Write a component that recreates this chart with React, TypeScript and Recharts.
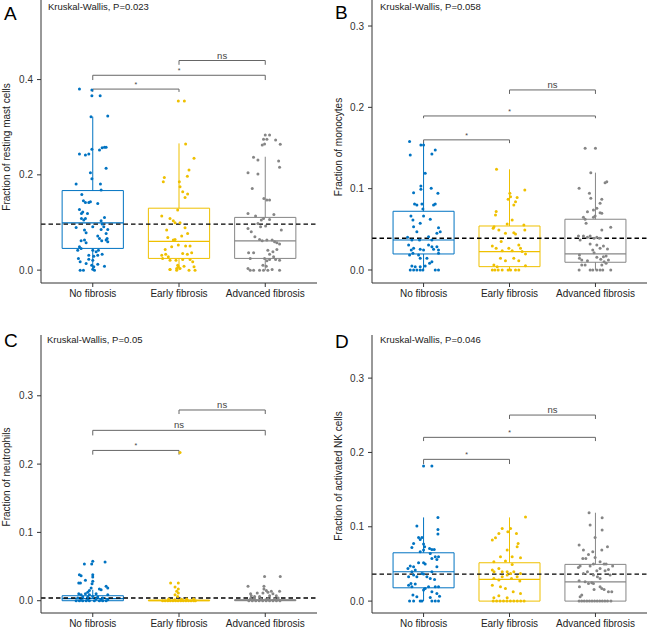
import React from 'react';
import { ComposedChart, XAxis, YAxis, Scatter, ReferenceArea, ReferenceLine } from 'recharts';

const FONT = '"Liberation Sans", Arial, Helvetica, sans-serif';

// ---------- shared data ----------
const categories = ['No fibrosis', 'Early fibrosis', 'Advanced fibrosis'];
const groupColors = ['#0073C2', '#EFC000', '#868686'];
const panelLetters = ['A', 'B', 'C', 'D'];
const yTitles = [
  'Fraction of resting mast cells',
  'Fraction of monocytes',
  'Fraction of neutrophils',
  'Fraction of activated NK cells',
];
const pValueTexts = [
  'Kruskal-Wallis, P=0.023',
  'Kruskal-Wallis, P=0.058',
  'Kruskal-Wallis, P=0.05',
  'Kruskal-Wallis, P=0.046',
];

// ---------- panel A: resting mast cells ----------
const aTicks = [0, 0.2, 0.4];
const aMean = 0.0966;
// box stats: [q1, median, q3, lower whisker, upper whisker]
const aBoxes = [
  [0.0456, 0.0994, 0.167, 0, 0.322],
  [0.0246, 0.0603, 0.13, 0, 0.266],
  [0.0246, 0.0616, 0.1107, 0, 0.238],
];
// brackets: [from group, to group, y of bar, y of tips, label]
const aBrackets = [
  [1, 2, 0.38, 0.374, '*'],
  [1, 3, 0.409, 0.399, '*'],
  [2, 3, 0.44, 0.431, 'ns'],
];
// points: [jitter offset, value]
const aNo = [[-0.154,0.38],[-0.01,0.378],[-0.01,0.366],[0.086,0.366],[-0.02,0.322],[0.174,0.3235],[-0.01,0.2535],[0.078,0.252],[0.109,0.257],[0.136,0.258],[0.155,0.258],[-0.154,0.2437],[-0.085,0.2416],[-0.046,0.2437],[-0.027,0.2045],[0.155,0.2136],[-0.01,0.1918],[-0.193,0.1807],[0.089,0.1807],[0.097,0.168],[-0.127,0.159],[-0.108,0.1456],[-0.085,0.1422],[-0.046,0.1422],[-0.027,0.1435],[0.058,0.14],[-0.154,0.1275],[-0.131,0.119],[-0.116,0.1218],[-0.061,0.119],[-0.131,0.1086],[-0.104,0.105],[-0.085,0.1086],[0.097,0.1036],[0.136,0.1107],[-0.193,0.0897],[-0.096,0.084],[-0.077,0.0784],[0,0.091],[0.128,0.091],[0.109,0.0966],[0.097,0.0855],[0.174,0.0855],[0.155,0.0771],[-0.135,0.0616],[-0.096,0.063],[-0.077,0.0574],[0.058,0.0714],[0.078,0.0666],[0.104,0.0616],[0.155,0.063],[0.174,0.0595],[0.167,0.0666],[-0.154,0.049],[-0.135,0.0456],[-0.174,0.042],[0,0.042],[0.039,0.0385],[0.066,0.042],[-0.046,0.0315],[0.012,0.0294],[0.058,0.0315],[0.109,0.0336],[-0.166,0.0245],[-0.146,0.0175],[-0.046,0.0231],[0,0.021],[-0.077,0.0141],[-0.012,0.0105],[0.012,0.007],[0.058,0.0126],[0.136,0.0084],[-0.146,0],[-0.108,0],[0,0.002],[0.02,0]];
const aEarly = [[-0.008,0.355],[0.062,0.355],[0.077,0.265],[0.174,0.2346],[-0.17,0.1947],[-0.182,0.1856],[0.004,0.1856],[0.116,0.21],[0.097,0.197],[0.012,0.175],[0.043,0.1646],[0.07,0.1527],[0.1,0.16],[-0.015,0.126],[-0.2,0.1134],[-0.104,0.1085],[-0.066,0.1036],[0.012,0.0994],[-0.046,0.0994],[-0.143,0.084],[0.07,0.089],[0.1,0.077],[-0.13,0.0686],[0.031,0.0714],[-0.066,0.063],[-0.046,0.0644],[-0.085,0.049],[-0.008,0.0525],[0.077,0.0504],[0.128,0.0504],[-0.16,0.0434],[-0.2,0.0315],[-0.154,0.0336],[-0.124,0.028],[-0.19,0.0245],[-0.104,0.021],[-0.035,0.021],[-0.015,0.0105],[-0.104,0.0015],[-0.027,0.0035],[-0.008,0.007],[0.043,0.035],[0.097,0.0336],[0.147,0.0364],[0.043,0.0224],[0.128,0.0224],[0.159,0.0175],[0.174,0.007],[0.116,0],[0.186,0],[0.058,0.0084],[0.012,0.0035],[-0.104,0.0014],[-0.027,0]];
const aAdv = [[0,0.2836],[0.05,0.2836],[-0.02,0.2746],[0.019,0.2746],[-0.035,0.2626],[-0.008,0.2647],[0.12,0.273],[0.174,0.264],[-0.136,0.2367],[-0.085,0.231],[-0.2,0.2045],[-0.085,0.2017],[0.155,0.229],[0.166,0.2157],[-0.151,0.1716],[-0.016,0.1506],[0.019,0.147],[0.05,0.147],[-0.2,0.119],[-0.112,0.1134],[-0.046,0.105],[-0.02,0.1086],[0.05,0.1065],[0.1,0.117],[-0.085,0.098],[-0.054,0.091],[0.004,0.0924],[0.186,0.084],[-0.2,0.0876],[-0.162,0.0805],[-0.12,0.07],[-0.066,0.0645],[-0.035,0.0616],[0.019,0.063],[0.08,0.063],[0.108,0.0595],[0.135,0.0574],[0.166,0.0546],[-0.193,0.0364],[-0.135,0.0364],[-0.174,0.0245],[0.03,0.042],[0.05,0.0336],[0.089,0.0385],[0.135,0.0434],[-0.008,0.0245],[0.019,0.0196],[0.05,0.0224],[0.097,0.028],[0.12,0.0224],[0.166,0.021],[-0.2,0.0035],[-0.174,0],[-0.135,0],[-0.066,0],[-0.02,0],[0.03,0],[0.08,0.0014],[0.166,0],[-0.027,0.0105],[0.012,0.0084]];

// ---------- panel B: monocytes ----------
const bTicks = [0, 0.1, 0.2, 0.3];
const bMean = 0.039;
const bBoxes = [
  [0.0197, 0.0369, 0.0722, 0, 0.158],
  [0.0041, 0.0225, 0.0541, 0, 0.1238],
  [0.0095, 0.0197, 0.0624, 0, 0.1197],
];
const bBrackets = [
  [1, 2, 0.16, 0.156, '*'],
  [1, 3, 0.1894, 0.1866, '*'],
  [2, 3, 0.2214, 0.2165, 'ns'],
];
const bNo = [[-0.163,0.158],[-0.031,0.1538],[0,0.1538],[-0.155,0.1415],[0.097,0.1427],[0.136,0.1476],[0.019,0.119],[-0.116,0.095],[-0.031,0.1033],[-0.031,0.0993],[0.089,0.1005],[0.167,0.0943],[-0.105,0.0812],[-0.078,0.08],[-0.019,0.0812],[-0.008,0.075],[0.116,0.08],[0.136,0.0812],[-0.147,0.0664],[-0.124,0.0615],[-0.116,0.0533],[0,0.0664],[0.078,0.0623],[-0.039,0.0574],[-0.078,0.0471],[0.174,0.052],[0.194,0.0471],[0.155,0.0451],[-0.186,0.0402],[-0.136,0.0369],[-0.047,0.0369],[0.058,0.041],[0.097,0.0369],[-0.174,0.0308],[-0.143,0.0246],[-0.116,0.0267],[-0.039,0.0255],[0,0.0246],[0.058,0.0308],[0.097,0.0287],[0.116,0.0255],[0.155,0.0287],[0.174,0.0246],[0.174,0.0205],[-0.163,0.0185],[-0.124,0.0205],[-0.058,0.0185],[-0.039,0.0144],[0.039,0.0144],[0.097,0.0102],[0.07,0.0082],[-0.136,0.0049],[-0.097,0.0041],[-0.039,0.0041],[0.019,0.0049],[-0.155,0],[-0.116,0],[-0.078,0],[-0.039,0],[-0.008,0],[0.136,0],[0.174,0]];
const bEarly = [[-0.151,0.1238],[0.178,0.0984],[0.004,0.0943],[-0.016,0.0869],[0.012,0.0902],[0.089,0.089],[0.07,0.084],[0.05,0.08],[-0.155,0.0718],[-0.163,0.0677],[0.031,0.0615],[-0.027,0.0566],[-0.19,0.0513],[-0.18,0.0533],[-0.124,0.0492],[-0.047,0.0451],[0.05,0.0459],[0.07,0.0443],[0.167,0.0553],[0.178,0.0492],[-0.2,0.0295],[-0.155,0.0267],[-0.097,0.0349],[-0.085,0.0238],[-0.008,0.0267],[0.031,0.0238],[0.108,0.0308],[0.128,0.0267],[0.147,0.0226],[0.186,0.0197],[-0.105,0.0144],[-0.047,0.0115],[0.05,0.0144],[0.108,0.0115],[-0.182,0.0062],[-0.143,0.0041],[0.186,0.0053],[-0.2,0],[-0.17,0],[-0.132,0],[-0.085,0],[-0.016,0],[0.012,0],[0.07,0],[0.108,0]];
const bAdv = [[-0.12,0.1497],[0,0.1497],[-0.054,0.1197],[0.112,0.1074],[0.132,0.1086],[-0.19,0.1005],[-0.07,0.0943],[-0.054,0.0882],[0.074,0.0869],[0.054,0.082],[-0.093,0.0717],[-0.023,0.0738],[0.016,0.0759],[0.054,0.0705],[0.074,0.0697],[-0.14,0.0648],[-0.12,0.0623],[-0.023,0.0648],[-0.004,0.0664],[-0.109,0.0574],[0.178,0.0525],[0.074,0.0492],[-0.198,0.0418],[-0.14,0.0418],[-0.062,0.0418],[-0.016,0.039],[-0.178,0.0369],[-0.093,0.0402],[0.047,0.039],[0.016,0.0402],[-0.062,0.032],[0.016,0.0308],[0.054,0.0267],[0.093,0.0295],[-0.031,0.0246],[-0.016,0.0213],[0.14,0.0258],[-0.186,0.0185],[-0.186,0.0144],[-0.159,0.0123],[-0.093,0.0114],[0.016,0.0156],[0.062,0.0131],[0.093,0.0164],[0.124,0.0172],[0.151,0.0123],[0.101,0.0102],[-0.159,0.0062],[-0.12,0.0062],[0.074,0.0062],[0.124,0.0082],[-0.19,0],[-0.062,0],[-0.031,0],[0.016,0],[0.054,0],[0.085,0],[0.178,0]];

// ---------- panel C: neutrophils ----------
const cTicks = [0, 0.1, 0.2, 0.3];
const cMean = 0.004;
const cBoxes = [
  [0, 0.003, 0.0073, 0, 0.016],
  [0, 0, 0.001, 0, 0.0025],
  [0, 0.0005, 0.0015, 0, 0.0037],
];
const cBrackets = [
  [1, 2, 0.22, 0.2138, '*'],
  [1, 3, 0.2494, 0.242, 'ns'],
  [2, 3, 0.2792, 0.2733, 'ns'],
];
const cNo = [[-0.097,0.0537],[-0.012,0.0537],[0,0.0576],[0.143,0.0566],[-0.155,0.038],[-0.135,0.0366],[0,0.038],[0,0.0347],[-0.162,0.0259],[-0.143,0.0259],[-0.085,0.0298],[0,0.0283],[-0.008,0.0249],[0.155,0.021],[0.174,0.0185],[-0.019,0.0185],[-0.039,0.0151],[-0.058,0.0122],[-0.085,0.0102],[0.077,0.0171],[0.097,0.0161],[-0.162,0.0102],[-0.135,0.0088],[-0.039,0.0088],[0.039,0.0102],[0.174,0.0088],[-0.174,0.0039],[-0.116,0.0054],[-0.058,0.0054],[0,0.0063],[0.058,0.0054],[0.116,0.0039],[-0.193,0],[-0.155,0],[-0.116,0],[-0.077,0],[-0.039,0],[0.019,0],[0.077,0],[0.116,0],[0.155,0],[-0.058,0.0015],[0.039,0.0024],[0.174,0.0015],[-0.135,0.001],[0.097,0.001]];
const cEarly = [[0.012,0.217],[-0.097,0.0259],[-0.008,0.0259],[-0.046,0.02],[-0.008,0.0171],[-0.027,0.0137],[-0.008,0.0112],[-0.046,0.0088],[-0.015,0.0063],[-0.19,0],[-0.16,0],[-0.13,0],[-0.1,0],[-0.07,0],[-0.04,0],[-0.01,0],[0.02,0],[0.05,0],[0.08,0],[0.11,0],[0.14,0],[0.17,0],[0.19,0],[-0.12,0.0024],[0.09,0.0024],[0.17,0.0024],[-0.05,0.0015],[0.03,0.002]];
const cAdv = [[-0.008,0.0356],[0.174,0.0356],[-0.2,0.021],[-0.015,0.021],[-0.015,0.0171],[0.012,0.0151],[-0.027,0.0112],[0.031,0.0122],[0.07,0.0137],[-0.17,0.0102],[-0.093,0.0112],[0.166,0.0137],[0.089,0.0102],[-0.162,0.0073],[-0.124,0.0063],[-0.066,0.0063],[0.05,0.0073],[0.128,0.0073],[-0.19,0],[-0.15,0],[-0.11,0],[-0.07,0],[-0.03,0],[0.01,0],[0.05,0],[0.09,0],[0.13,0],[0.17,0],[-0.13,0.0029],[-0.05,0.0024],[0.03,0.0029],[0.11,0.0024],[0.15,0.0039],[-0.17,0.0034]];

// ---------- panel D: activated NK cells ----------
const dTicks = [0, 0.1, 0.2, 0.3];
const dMean = 0.0363;
const dBoxes = [
  [0.0179, 0.0395, 0.065, 0, 0.1126],
  [0, 0.0292, 0.0516, 0, 0.1126],
  [0, 0.026, 0.0494, 0, 0.1189],
];
const dBrackets = [
  [1, 2, 0.1907, 0.1844, '*'],
  [1, 3, 0.2203, 0.2153, '*'],
  [2, 3, 0.2503, 0.245, 'ns'],
];
const dNo = [[0,0.1817],[0.097,0.1817],[0.167,0.1126],[-0.078,0.101],[0.167,0.0965],[0.167,0.0902],[-0.058,0.0857],[-0.039,0.083],[-0.019,0.0857],[-0.116,0.0776],[-0.136,0.0722],[0,0.0767],[0.012,0.0731],[0.07,0.0709],[0.097,0.0695],[0.124,0.0695],[-0.039,0.0664],[0,0.0686],[0.078,0.0642],[0.097,0.0574],[0.136,0.0597],[0.174,0.0597],[0.155,0.0561],[0,0.0516],[0.019,0.0498],[-0.058,0.0516],[-0.155,0.0471],[-0.182,0.044],[-0.116,0.0462],[-0.136,0.0395],[-0.097,0.0417],[-0.019,0.0372],[0,0.0363],[0.097,0.0395],[0.155,0.0462],[-0.174,0.0327],[-0.116,0.035],[-0.078,0.0327],[0.039,0.0327],[0.078,0.0305],[0.128,0.0292],[-0.147,0.0238],[-0.174,0.0215],[-0.136,0.0193],[-0.097,0.0229],[0.019,0.017],[0.058,0.0193],[0.136,0.0193],[0.174,0.0193],[0,0.0148],[0.097,0.0126],[0.155,0.0103],[0.186,0.0067],[-0.124,0.0081],[-0.078,0.0058],[0.078,0.0049],[-0.163,0],[-0.116,0],[-0.039,0],[-0.019,0],[0.097,0],[0.136,0],[0.174,0]];
const dEarly = [[0.186,0.113],[-0.085,0.0978],[0.012,0.0978],[-0.124,0.0911],[-0.019,0.0933],[0.081,0.0911],[-0.2,0.0821],[-0.163,0.0852],[0.1,0.0776],[0.089,0.0731],[-0.027,0.0686],[-0.105,0.0597],[0.031,0.0597],[0.128,0.0583],[-0.182,0.0529],[-0.047,0.0538],[0.031,0.0493],[-0.2,0.0417],[-0.18,0.0395],[-0.124,0.044],[-0.085,0.0395],[-0.027,0.0395],[0.012,0.0372],[0.05,0.0395],[0.128,0.0372],[-0.182,0.0305],[-0.124,0.0283],[-0.085,0.0327],[-0.027,0.035],[0.023,0.0305],[0.089,0.0327],[0.12,0.0269],[-0.2,0.0215],[-0.105,0.0193],[-0.047,0.017],[0.043,0.0126],[0.128,0.0103],[-0.124,0.0072],[-0.182,0.0045],[-0.027,0.0045],[-0.19,0],[-0.15,0],[-0.11,0],[-0.07,0],[-0.03,0],[0.01,0],[0.05,0],[0.09,0],[0.13,0],[0.17,0]];
const dAdv = [[-0.074,0.1189],[0.078,0.1122],[-0.062,0.1023],[0.078,0.0956],[-0.004,0.0857],[-0.19,0.0754],[-0.14,0.0686],[-0.081,0.0628],[-0.031,0.0664],[0.074,0.0686],[0.14,0.0731],[-0.147,0.0574],[-0.112,0.0574],[-0.004,0.0588],[-0.178,0.0471],[-0.198,0.0453],[-0.062,0.0471],[-0.023,0.0498],[0.054,0.0529],[0.101,0.0498],[0.124,0.0498],[0.2,0.0471],[0.054,0.044],[0.016,0.0408],[0.112,0.0408],[0.151,0.0426],[0.171,0.035],[-0.14,0.0372],[-0.093,0.0395],[-0.023,0.035],[0.023,0.0327],[0.054,0.0305],[-0.19,0.0274],[-0.12,0.026],[-0.081,0.0238],[-0.043,0.0247],[-0.186,0.0193],[-0.016,0.0157],[0.054,0.0193],[0.074,0.017],[0.101,0.0157],[0.151,0.0126],[0.19,0.0126],[-0.159,0.0081],[-0.178,0.0058],[-0.023,0.0238],[-0.19,0],[-0.16,0],[-0.13,0],[-0.1,0],[-0.07,0],[-0.04,0],[-0.01,0],[0.02,0],[0.05,0],[0.08,0],[0.11,0],[0.14,0],[0.18,0]];

// ---------- layout (positions / sizes only) ----------
const BOX_HALF = 0.355;
const panels = [
  { left: 0, top: 0, width: 325, height: 315, margin: { top: 0, right: 8, bottom: 0, left: 0 }, yWidth: 41, xHeight: 32, domain: [-0.027, 0.567], ticks: aTicks, mean: aMean, boxes: aBoxes, brackets: aBrackets, groups: [aNo, aEarly, aAdv] },
  { left: 325, top: 0, width: 326, height: 315, margin: { top: 0, right: 4, bottom: 0, left: 0 }, yWidth: 47, xHeight: 32, domain: [-0.016, 0.332], ticks: bTicks, mean: bMean, boxes: bBoxes, brackets: bBrackets, groups: [bNo, bEarly, bAdv] },
  { left: 0, top: 315, width: 325, height: 315, margin: { top: 20, right: 8, bottom: 0, left: 0 }, yWidth: 41, xHeight: 17, domain: [-0.018, 0.389], ticks: cTicks, mean: cMean, boxes: cBoxes, brackets: cBrackets, groups: [cNo, cEarly, cAdv] },
  { left: 325, top: 315, width: 326, height: 315, margin: { top: 20, right: 4, bottom: 0, left: 0 }, yWidth: 47, xHeight: 17, domain: [-0.016, 0.358], ticks: dTicks, mean: dMean, boxes: dBoxes, brackets: dBrackets, groups: [dNo, dEarly, dAdv] },
];
const letterPos = [[4, 20], [335, 19], [4, 347], [335, 348]];
const pTextPos = [[48, 10], [380, 10], [47, 343], [380, 343]];
const yTitlePos = [[9.5, 147], [341.5, 147], [10, 477], [341.5, 476]];

const AXIS = '#333';
const BRACKET = '#666';

function makeDot(color: string) {
  return (props: any) => {
    if (props.cx == null || props.cy == null) return <g />;
    return <circle cx={props.cx} cy={props.cy} r={1.5} fill={color} />;
  };
}

function Panel({ p }: { p: any }) {
  return (
    <div style={{ position: 'absolute', left: p.left, top: p.top }}>
      <ComposedChart width={p.width} height={p.height} margin={p.margin}>
        <XAxis
          type="number"
          dataKey="x"
          domain={[0.4, 3.6]}
          ticks={[1, 2, 3]}
          interval={0}
          allowDataOverflow
          height={p.xHeight}
          tickFormatter={(v: number) => categories[Math.round(v) - 1]}
          axisLine={{ stroke: AXIS, strokeWidth: 1 }}
          tickLine={{ stroke: AXIS }}
          tickSize={4}
          tickMargin={3}
          tick={{ fontSize: 10, fill: '#222', fontFamily: FONT }}
        />
        <YAxis
          type="number"
          dataKey="y"
          domain={p.domain}
          ticks={p.ticks}
          interval={0}
          allowDataOverflow
          width={p.yWidth}
          tickFormatter={(v: number) => v.toFixed(1)}
          axisLine={{ stroke: AXIS, strokeWidth: 1 }}
          tickLine={{ stroke: AXIS }}
          tickSize={4}
          tickMargin={4}
          tick={{ fontSize: 10, fill: '#333', fontFamily: FONT }}
        />
        {p.boxes.map((b: number[], i: number) => (
          <ReferenceArea
            key={`box${i}`}
            x1={i + 1 - BOX_HALF}
            x2={i + 1 + BOX_HALF}
            y1={b[0]}
            y2={b[2]}
            stroke={groupColors[i]}
            strokeWidth={1}
            fill="#ffffff"
            fillOpacity={0}
            ifOverflow="visible"
          />
        ))}
        {p.boxes.map((b: number[], i: number) => (
          <ReferenceLine key={`med${i}`} segment={[{ x: i + 1 - BOX_HALF, y: b[1] }, { x: i + 1 + BOX_HALF, y: b[1] }]} stroke={groupColors[i]} strokeWidth={1.2} ifOverflow="visible" />
        ))}
        {p.boxes.map((b: number[], i: number) => (
          <ReferenceLine key={`wu${i}`} segment={[{ x: i + 1, y: b[2] }, { x: i + 1, y: b[4] }]} stroke={groupColors[i]} strokeWidth={1} ifOverflow="visible" />
        ))}
        {p.boxes.map((b: number[], i: number) => (
          <ReferenceLine key={`wl${i}`} segment={[{ x: i + 1, y: b[0] }, { x: i + 1, y: b[3] }]} stroke={groupColors[i]} strokeWidth={1} ifOverflow="visible" />
        ))}
        {p.groups.map((g: number[][], i: number) => (
          <Scatter
            key={`pts${i}`}
            data={g.map((pt) => ({ x: i + 1 + pt[0], y: pt[1] }))}
            fill={groupColors[i]}
            shape={makeDot(groupColors[i])}
            isAnimationActive={false}
          />
        ))}
        <ReferenceLine y={p.mean} stroke="#000" strokeWidth={1.4} strokeDasharray="4.5 3" ifOverflow="visible" />
        {p.brackets.map((br: any[], i: number) => (
          <ReferenceLine
            key={`brh${i}`}
            segment={[{ x: br[0], y: br[2] }, { x: br[1], y: br[2] }]}
            stroke={BRACKET}
            strokeWidth={1}
            ifOverflow="visible"
            label={{ value: br[4], position: 'top', offset: 2, fontSize: br[4] === '*' ? 7 : 9.5, fill: '#444', fontFamily: FONT }}
          />
        ))}
        {p.brackets.map((br: any[], i: number) => (
          <ReferenceLine key={`brl${i}`} segment={[{ x: br[0], y: br[2] }, { x: br[0], y: br[3] }]} stroke={BRACKET} strokeWidth={1} ifOverflow="visible" />
        ))}
        {p.brackets.map((br: any[], i: number) => (
          <ReferenceLine key={`brr${i}`} segment={[{ x: br[1], y: br[2] }, { x: br[1], y: br[3] }]} stroke={BRACKET} strokeWidth={1} ifOverflow="visible" />
        ))}
      </ComposedChart>
    </div>
  );
}

export default function App() {
  return (
    <div style={{ position: 'absolute', left: 0, top: 0, width: 651, height: 630, background: '#fff', overflow: 'hidden' }}>
      {panels.map((p, i) => (
        <Panel key={i} p={p} />
      ))}
      <svg width={651} height={630} style={{ position: 'absolute', left: 0, top: 0, pointerEvents: 'none' }}>
        {panelLetters.map((l, i) => (
          <text key={`l${i}`} x={letterPos[i][0]} y={letterPos[i][1]} fontSize={19} fill="#000" fontFamily={FONT}>{l}</text>
        ))}
        {pValueTexts.map((t, i) => (
          <text key={`p${i}`} x={pTextPos[i][0]} y={pTextPos[i][1]} fontSize={9.5} fill="#222" fontFamily={FONT}>{t}</text>
        ))}
        {yTitles.map((t, i) => (
          <text key={`t${i}`} x={yTitlePos[i][0]} y={yTitlePos[i][1]} fontSize={10} fill="#222" fontFamily={FONT} textAnchor="middle" transform={`rotate(-90 ${yTitlePos[i][0]} ${yTitlePos[i][1]})`}>{t}</text>
        ))}
      </svg>
    </div>
  );
}
